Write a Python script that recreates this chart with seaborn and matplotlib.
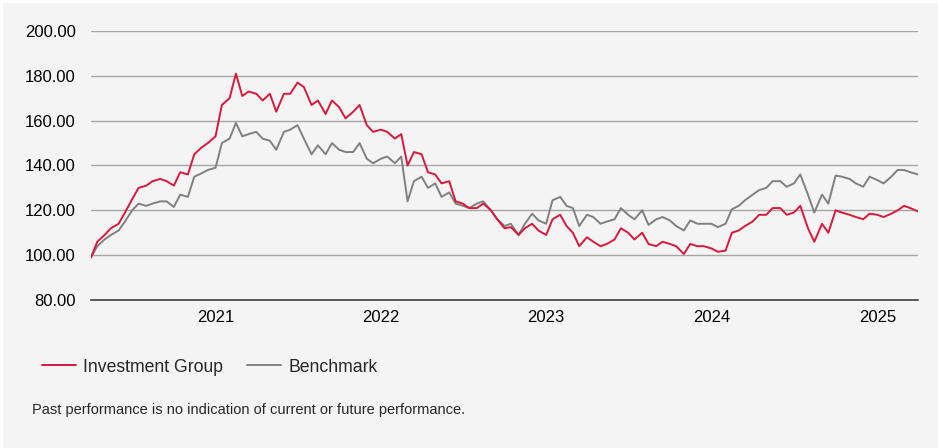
import pandas as pd
import seaborn as sns
import matplotlib.pyplot as plt
import matplotlib.dates as mdates
from matplotlib.lines import Line2D
from matplotlib.patches import Rectangle
from matplotlib.ticker import FormatStrFormatter

sns.set_style('white')
plt.rcParams['font.family'] = ['Liberation Sans', 'DejaVu Sans']

# semi-monthly readings, 2020-04-01 .. 2025-04-01
investment_group = [
    99, 106, 109, 112, 114, 119, 125, 130, 131, 133, 134, 133, 131, 137, 136, 145,
    148, 150, 153, 167, 170, 181, 171, 173, 172, 169, 172, 164, 172, 172, 177, 175,
    167, 169, 163, 169, 166, 161, 164, 167, 158, 155, 156, 155, 152, 154, 140, 146,
    145, 137, 136, 132, 133, 124, 123, 121, 121, 123, 120, 116, 112, 112.5, 109, 112,
    114, 111, 109, 116, 118, 113, 110, 104, 108, 106, 104, 105, 107, 112, 110, 107,
    110, 105, 104, 106, 105, 104, 100.5, 105, 104, 104, 103, 101.5, 102, 110, 111, 113,
    115, 118, 118, 121, 121, 118, 119, 122, 112, 106, 114, 110, 120, 119, 118, 117,
    116, 118.5, 118, 117, 118.5, 120, 122, 121, 119.5,
]
benchmark = [
    99, 104, 107, 109, 111, 115, 120, 123, 122, 123, 124, 124, 121.5, 127, 126, 135,
    136.5, 138, 139, 150, 152, 159, 153, 154, 155, 152, 151, 147, 155, 156, 158, 152,
    145, 149, 145, 150, 147, 146, 146, 150, 143, 141, 143, 144, 141, 144, 124, 133,
    135, 130, 132, 126, 128, 123, 122, 121, 123, 124, 120, 116, 113, 114, 109, 114,
    118.5, 115.5, 114, 124.5, 126, 122, 121, 113, 118, 117, 114, 115, 116, 121, 118, 116,
    120, 113.5, 116, 117, 115.5, 113, 111, 115.5, 114, 114, 114, 112.5, 114, 120.5, 122, 124.5,
    127, 129, 130, 133, 133, 130.5, 132, 136, 127, 119, 127, 123, 135.5, 135, 134, 132,
    130.5, 135, 133.5, 132, 135, 138, 138, 137, 136,
]
series_names = ['Investment Group', 'Benchmark']
colors = {'Investment Group': '#d71a3b', 'Benchmark': '#808080'}
y_ticks = [80, 100, 120, 140, 160, 180, 200]
footnote = 'Past performance is no indication of current or future performance.'

dates = pd.date_range('2020-04-01', periods=len(investment_group), freq='SMS')
df = pd.DataFrame({'date': dates, 'Investment Group': investment_group, 'Benchmark': benchmark})
long_df = df.melt(id_vars='date', var_name='series', value_name='value')

fig = plt.figure(figsize=(9.38, 4.48), dpi=100, facecolor='white')
fig.patches.append(Rectangle((3 / 938, 0), 1, 1 - 3 / 448, transform=fig.transFigure,
                             facecolor='#f4f4f4', edgecolor='none', zorder=-10))
ax = fig.add_axes([0.097, 0.3304, 0.8817, 0.6004])
ax.set_facecolor('#f4f4f4')

# benchmark first so the red line sits on top
sns.lineplot(data=long_df, x='date', y='value', hue='series',
             hue_order=['Benchmark', 'Investment Group'], palette=colors,
             linewidth=1.4, legend=False, ax=ax)

ax.set_xlim(dates.min(), dates.max())
ax.set_ylim(80, 200)
ax.set_yticks(y_ticks)
ax.yaxis.set_major_formatter(FormatStrFormatter('%.2f'))
ax.xaxis.set_major_locator(mdates.YearLocator())
ax.xaxis.set_major_formatter(mdates.DateFormatter('%Y'))
ax.grid(axis='y', color='#a6a6a6', linewidth=1)
ax.set_axisbelow(True)
for side in ['left', 'right', 'top']:
    ax.spines[side].set_visible(False)
ax.spines['bottom'].set_color('#404040')
ax.spines['bottom'].set_linewidth(1.2)
ax.tick_params(axis='y', length=0, pad=11, labelsize=12, labelcolor='black')
ax.tick_params(axis='x', length=4, width=1, color='#404040', pad=3, labelsize=12, labelcolor='black')
ax.set_xlabel('')
ax.set_ylabel('')

handles = [Line2D([], [], color=colors[n], linewidth=1.4) for n in series_names]
fig.legend(handles, series_names, loc='center left', bbox_to_anchor=(0.0448, 0.1808),
           bbox_transform=fig.transFigure, ncol=2, frameon=False, fontsize=12.7,
           handlelength=1.9, handletextpad=0.45, columnspacing=1.36,
           borderpad=0, borderaxespad=0)

fig.text(32 / 938, 0.0848, footnote, fontsize=10.5, va='center', ha='left')

fig.savefig('out.png', dpi=100, facecolor=fig.get_facecolor())
